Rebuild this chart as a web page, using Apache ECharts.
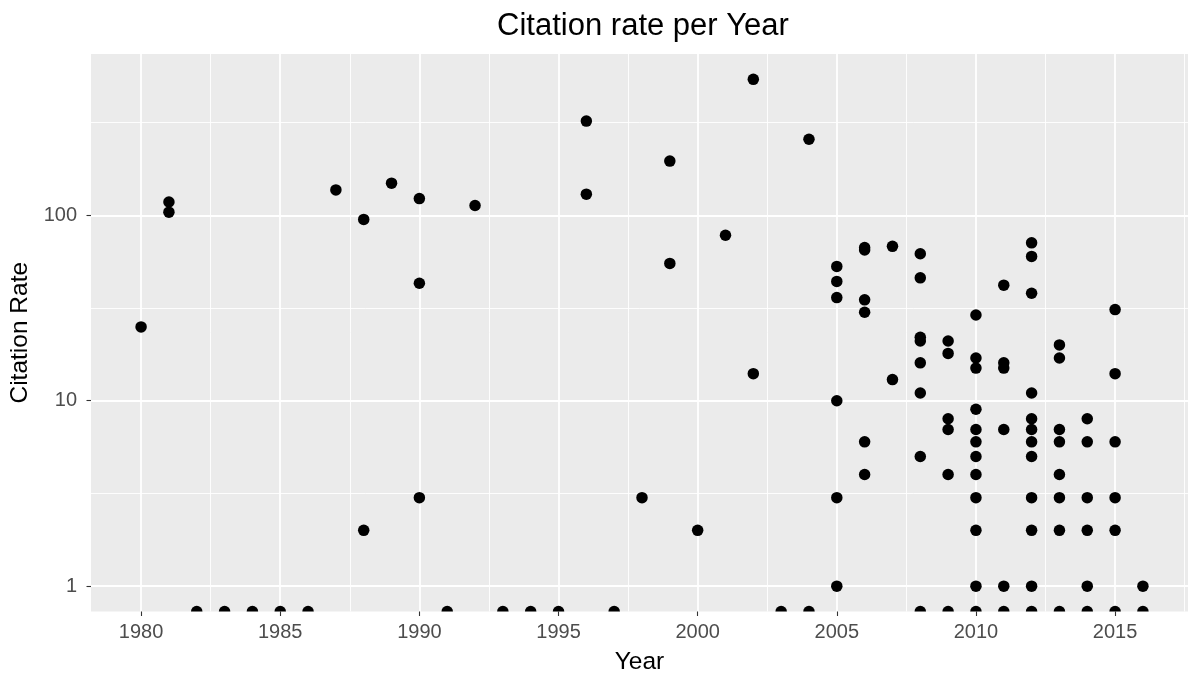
<!DOCTYPE html>
<html>
<head>
<meta charset="utf-8">
<script src="https://cdn.jsdelivr.net/npm/echarts@6/dist/echarts.min.js"></script>
<style>html,body{margin:0;padding:0;background:#fff}#c{width:1192px;height:675px}</style>
</head>
<body>
<div id="c"></div>
<script>
// ---- data ----
const years = [
  1980,
  1981,1981,
  1982,1983,1984,1985,1986,
  1987,
  1988,1988,
  1989,
  1990,1990,1990,
  1991,1992,1993,1994,1995,
  1996,1996,
  1997,1998,
  1999,1999,
  2000,2001,
  2002,2002,
  2003,
  2004,2004,
  2005,2005,2005,2005,2005,2005,
  2006,2006,2006,2006,2006,2006,
  2007,2007,
  2008,2008,2008,2008,2008,2008,2008,2008,
  2009,2009,2009,2009,2009,2009,
  2010,2010,2010,2010,2010,2010,2010,2010,2010,2010,2010,2010,
  2011,2011,2011,2011,2011,2011,
  2012,2012,2012,2012,2012,2012,2012,2012,2012,2012,2012,2012,
  2013,2013,2013,2013,2013,2013,2013,2013,
  2014,2014,2014,2014,2014,2014,
  2015,2015,2015,2015,2015,2015,
  2016,2016
];
const citationRate = [
  25,
  118,104,
  0,0,0,0,0,
  137,
  95,2,
  149,
  123,43,3,
  0,113,0,0,0,
  322,130,
  0,3,
  196,55,
  2,78,
  541,14,
  0,
  257,0,
  53,44,36,10,3,1,
  67,65,35,30,6,4,
  68,13,
  62,46,22,21,16,11,5,0,
  21,18,8,7,4,0,
  29,17,15,9,7,6,5,4,3,2,1,0,
  42,16,15,7,1,0,
  71,60,38,11,8,7,6,5,3,2,1,0,
  20,17,7,6,4,3,2,0,
  8,6,3,2,1,0,
  31,14,6,3,2,0,
  1,0
];
const xTicks = [1980, 1985, 1990, 1995, 2000, 2005, 2010, 2015];
const xMinor = [1982.5, 1987.5, 1992.5, 1997.5, 2002.5, 2007.5, 2012.5, 2017.5];
const yTicks = [1, 10, 100];
const yMinor = [3.1623, 31.623, 316.23];

// ---- layout ----
const X_MIN = 1978.2, X_MAX = 2017.62;
const Y_MIN = 0.730, Y_MAX = 741;
const FONT = '"Liberation Sans", Arial, Helvetica, sans-serif';

// positive values plotted normally; zeros (log -> -Inf) squished onto the panel floor
const pts = [], zeroPts = [];
for (let i = 0; i < years.length; i++) {
  if (citationRate[i] > 0) pts.push([years[i], citationRate[i]]);
  else zeroPts.push([years[i], Y_MIN]);
}

const chart = echarts.init(document.getElementById('c'), null, {renderer: 'canvas'});
const option = {
  backgroundColor: '#ffffff',
  animation: false,
  textStyle: {fontFamily: FONT},
  title: {
    text: 'Citation rate per Year',
    left: 638, top: 6, textAlign: 'center',
    textStyle: {fontFamily: FONT, fontSize: 31, fontWeight: 'normal', color: '#000'}
  },
  grid: {left: 91, right: 4, top: 54, bottom: 63.5, show: true,
         backgroundColor: '#EBEBEB', borderWidth: 0, containLabel: false,
         outerBoundsMode: 'none'},
  xAxis: [{
    type: 'value', min: X_MIN, max: X_MAX,
    name: 'Year', nameLocation: 'middle', nameGap: 38,
    nameTextStyle: {fontFamily: FONT, fontSize: 24.5, color: '#000'},
    axisLine: {show: false},
    axisTick: {show: true, length: 4.5, customValues: xTicks, lineStyle: {color: '#333333', width: 1.1}},
    axisLabel: {customValues: xTicks, margin: 10.5, fontFamily: FONT, fontSize: 20, color: '#4D4D4D',
                formatter: v => String(v)},
    splitLine: {show: true, lineStyle: {color: '#ffffff', width: 1.8}},
    z: 1
  }, {
    type: 'value', min: X_MIN, max: X_MAX, show: true, position: 'bottom',
    axisLine: {show: false}, axisTick: {show: false, customValues: xMinor},
    axisLabel: {show: false, customValues: xMinor},
    splitLine: {show: true, lineStyle: {color: '#ffffff', width: 0.9}}
  }],
  yAxis: [{
    type: 'log', logBase: 10, min: Y_MIN, max: Y_MAX,
    name: 'Citation Rate', nameLocation: 'middle', nameGap: 57, nameRotate: 90,
    nameTextStyle: {fontFamily: FONT, fontSize: 24.5, color: '#000'},
    axisLine: {show: false},
    axisTick: {show: true, length: 4.5, customValues: yTicks, lineStyle: {color: '#333333', width: 1.1}},
    axisLabel: {customValues: yTicks, margin: 14, fontFamily: FONT, fontSize: 20, color: '#4D4D4D',
                formatter: v => String(Math.round(v))},
    splitLine: {show: true, lineStyle: {color: '#ffffff', width: 1.8}}
  }, {
    type: 'log', logBase: 10, min: Y_MIN, max: Y_MAX, position: 'left',
    axisLine: {show: false}, axisTick: {show: false, customValues: yMinor},
    axisLabel: {show: false, customValues: yMinor},
    splitLine: {show: true, lineStyle: {color: '#ffffff', width: 0.9}}
  }],
  series: [{
    type: 'scatter', xAxisIndex: 0, yAxisIndex: 0,
    data: pts, symbol: 'circle', symbolSize: 11.5,
    itemStyle: {color: '#000000', opacity: 1}, z: 5, clip: false
  }, {
    type: 'scatter', xAxisIndex: 0, yAxisIndex: 0,
    data: zeroPts,
    symbol: 'path://M-1,0 A1,1 0 0,1 1,0 Z',
    symbolSize: [11.5, 5.75], symbolOffset: [0, -2.875],
    itemStyle: {color: '#000000', opacity: 1}, z: 5, clip: false
  }]
};
chart.setOption(option);
</script>
</body>
</html>
